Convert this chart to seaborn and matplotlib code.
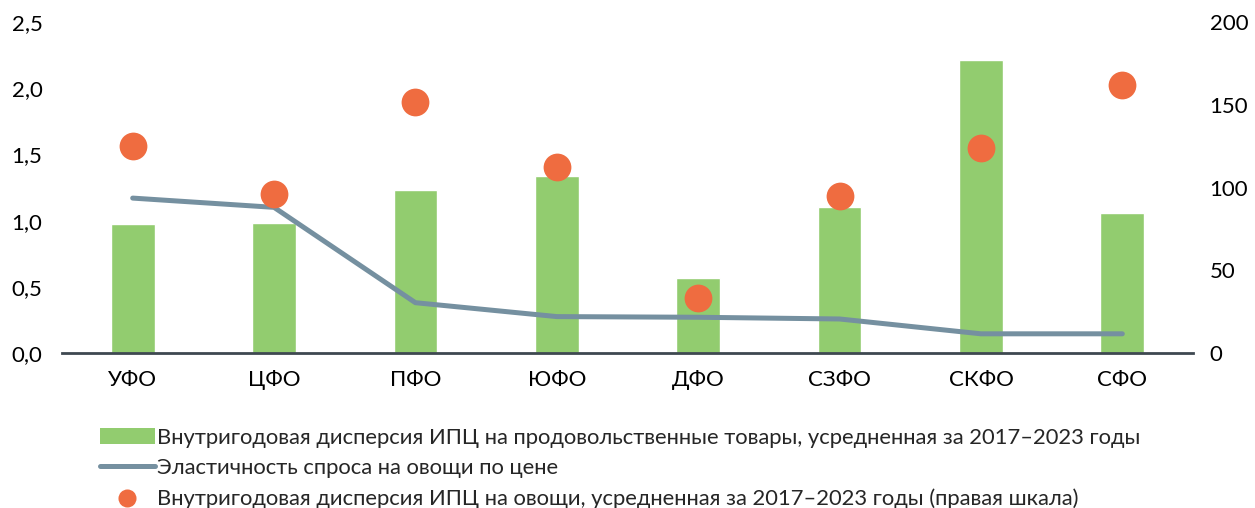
import matplotlib
matplotlib.use("Agg")
import matplotlib.pyplot as plt
import seaborn as sns
from matplotlib.lines import Line2D
from matplotlib.patches import Patch
from matplotlib.ticker import FuncFormatter, MultipleLocator

regions = ["УФО", "ЦФО", "ПФО", "ЮФО", "ДФО", "СЗФО", "СКФО", "СФО"]
food_dispersion = [0.975, 0.98, 1.23, 1.335, 0.57, 1.10, 2.21, 1.06]
elasticity = [1.17, 1.10, 0.38, 0.275, 0.27, 0.257, 0.145, 0.145]
veg_dispersion = [125, 96, 151.5, 112.5, 33, 94.7, 124, 162]

label_bar = "Внутригодовая дисперсия ИПЦ на продовольственные товары, усредненная за 2017–2023 годы"
label_line = "Эластичность спроса на овощи по цене"
label_dots = "Внутригодовая дисперсия ИПЦ на овощи, усредненная за 2017–2023 годы (правая шкала)"

green = "#92cc6f"
steel = "#7590a0"
orange = "#ef6c40"

sns.set_theme(style="white")
plt.rcParams["font.family"] = ["Lato", "DejaVu Sans"]

fig = plt.figure(figsize=(12.55, 5.08), dpi=100)
ax = fig.add_axes([0.0494, 0.3051, 0.9012, 0.6516])

sns.barplot(x=regions, y=food_dispersion, color=green, saturation=1, width=0.31, ax=ax)
sns.pointplot(x=regions, y=elasticity, color=steel, errorbar=None, markers="",
              linestyles="-", linewidth=3.6, ax=ax)
for ln in ax.lines:
    ln.set_solid_capstyle("round")
    ln.set_solid_joinstyle("round")

ax2 = ax.twinx()
sns.pointplot(x=regions, y=veg_dispersion, color=orange, errorbar=None, markers="o",
              linestyles="none", markersize=20, markeredgewidth=0, ax=ax2)

ax.set_xlim(-0.5, len(regions) - 0.5)
ax.set_ylim(0, 2.5)
ax2.set_ylim(0, 200)
ax.yaxis.set_major_locator(MultipleLocator(0.5))
ax2.yaxis.set_major_locator(MultipleLocator(50))
ax.yaxis.set_major_formatter(FuncFormatter(lambda v, p: f"{v:.1f}".replace(".", ",")))

for a in (ax, ax2):
    for s in ("top", "left", "right", "bottom"):
        a.spines[s].set_visible(False)
    a.tick_params(axis="both", length=0, labelsize=16, colors="black")
    a.set_xlabel("")
    a.set_ylabel("")
ax.spines["bottom"].set_visible(True)
ax.spines["bottom"].set_color("#3e4850")
ax.spines["bottom"].set_linewidth(2)
ax.tick_params(axis="x", pad=12)
ax.tick_params(axis="y", pad=14)
ax2.tick_params(axis="y", pad=12)

handles = [
    Patch(facecolor=green, edgecolor="none"),
    Line2D([0], [0], color=steel, linewidth=3.6, solid_capstyle="round"),
    Line2D([0], [0], color=orange, marker="o", markersize=13, markeredgewidth=0,
           linestyle="none"),
]
fig.legend(handles, [label_bar, label_line, label_dots], loc="upper left",
           bbox_to_anchor=(0.0709, 0.18), frameon=False, fontsize=15.8,
           handlelength=2.5, handletextpad=0.1, labelspacing=0.48, borderpad=0)

fig.savefig("out.png", dpi=100)
